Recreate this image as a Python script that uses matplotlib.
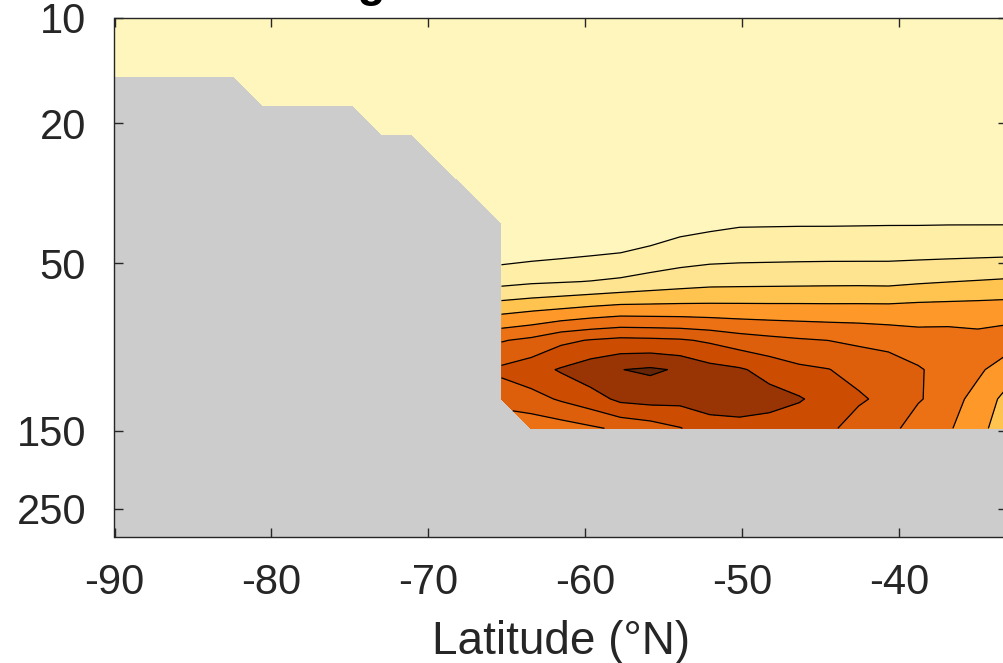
import numpy as np
import matplotlib
matplotlib.use("Agg")
import matplotlib.pyplot as plt
from matplotlib.ticker import FixedLocator, NullLocator

plt.rcParams['font.family'] = ['Liberation Sans', 'DejaVu Sans']

nan = np.nan

# grid: latitude columns and pressure levels (bottom level first)
lat = np.linspace(-90, -33.1, 31)
plev = np.logspace(np.log10(147.5), 1, 15)

# field values, one row per pressure level, nan = no data
row_k0 = [nan] * 14 + [5.3, 5.5, 5.83, 6.2, 6.5, 6.95, 7.57, 7.66, 7.5, 7.24, 7.3, 6.3, 6.4, 5.4, 5.1, 4.5, 3.1]
row_k1 = [nan] * 13 + [6.43, 6.64, 7.12, 7.57, 8.22, 8.35, 8.29, 8.45, 8.5, 8.4, 8.1, 7.55, 7.2, 6.6, 6.1, 5.5, 4.6, 3.7]
row_k2 = [nan] * 13 + [7.2, 7.6, 8.1, 8.6, 8.98, 9.15, 8.89, 8.35, 8.12, 7.65, 7.22, 7.03, 6.55, 6.5, 6.1, 5.6, 5.2, 4.4]
row_k3 = [nan] * 13 + [5.93, 6.23, 6.79, 7.06, 7.25, 7.2, 7.11, 6.86, 6.5, 6.28, 6.11, 5.99, 5.87, 5.7, 5.45, 5.45, 5.3, 5.5]
row_k4 = [nan] * 13 + [3.78, 3.98, 4.18, 4.4, 4.57, 4.55, 4.54, 4.51, 4.49, 4.47, 4.46, 4.44, 4.44, 4.43, 4.5, 4.53, 4.56, 4.6]
row_k5 = [nan] * 13 + [1.7, 1.86, 1.94, 2.03, 2.17, 2.38, 2.55, 2.69, 2.72, 2.74, 2.76, 2.78, 2.79, 2.77, 2.89, 2.98, 3.06, 3.15]
row_k6 = [nan] * 13 + [0.53, 0.65, 0.76, 0.87, 0.98, 1.23, 1.45, 1.57, 1.63, 1.65, 1.67, 1.68, 1.68, 1.69, 1.71, 1.74, 1.77, 1.8]
row_k7 = [nan] * 13 + [0.2, 0.2, 0.2, 0.2, 0.2, 0.26, 0.63, 0.78, 0.9, 0.91, 0.92, 0.92, 0.93, 0.94, 0.94, 0.95, 0.95, 0.95]
row_k8 = [nan] * 12 + [0.2] * 19
row_k9 = [nan] * 11 + [0.1] * 20
row_k10 = [nan] * 9 + [0.1] * 22
row_k11 = [nan] * 5 + [0.1] * 26
row_k12 = [0.1] * 31
row_k13 = [0.1] * 31
row_k14 = [0.1] * 31

rows = [row_k0, row_k1, row_k2, row_k3, row_k4, row_k5, row_k6, row_k7,
        row_k8, row_k9, row_k10, row_k11, row_k12, row_k13, row_k14]
field = np.ma.masked_invalid(np.array(rows))

levels = np.arange(0, 11)
band_colors = ['#fff6bd', '#ffeea5', '#fee391', '#fec44f', '#fe9929',
               '#ec7014', '#dd5e0b', '#cc4c02', '#993404', '#662506']

yticks = [10, 20, 50, 150, 250]
xticks = [-90, -80, -70, -60, -50, -40]
axcol = '#262626'

fig = plt.figure(figsize=(10.04, 6.63), dpi=100)
ax = fig.add_axes([114.5 / 1004, 1 - 536.7 / 663, 893 / 1004, 519.2 / 663])
ax.set_facecolor('#cccccc')

ax.contourf(lat, plev, field, levels=levels, colors=band_colors, corner_mask=True)
ax.contour(lat, plev, field, levels=levels[1:-1], colors='k', linewidths=0.9,
           corner_mask=True)

ax.set_yscale('log')
ax.set_ylim(300, 10)
ax.set_xlim(-90, -33.1)
ax.yaxis.set_major_locator(FixedLocator(yticks))
ax.yaxis.set_minor_locator(NullLocator())
ax.set_yticklabels([str(t) for t in yticks])
ax.set_xticks(xticks)
ax.set_xticklabels([str(t) for t in xticks])

ax.tick_params(direction='in', length=6.5, width=1.0, color=axcol,
               top=True, right=True, labelsize=30, labelcolor=axcol)
ax.tick_params(axis='x', pad=18.8)
ax.tick_params(axis='y', pad=20.5)
for sp in ax.spines.values():
    sp.set_color(axcol)
    sp.set_linewidth(1.0)

ax.set_xlabel('Latitude (°N)', fontsize=33, color=axcol, labelpad=12.5)

fig.text(386 / 1004, 1 + 4 / 663, 'Warming', ha='right', va='baseline',
         fontsize=33, fontweight='bold', color='k')

fig.savefig('out.png', dpi=100)
